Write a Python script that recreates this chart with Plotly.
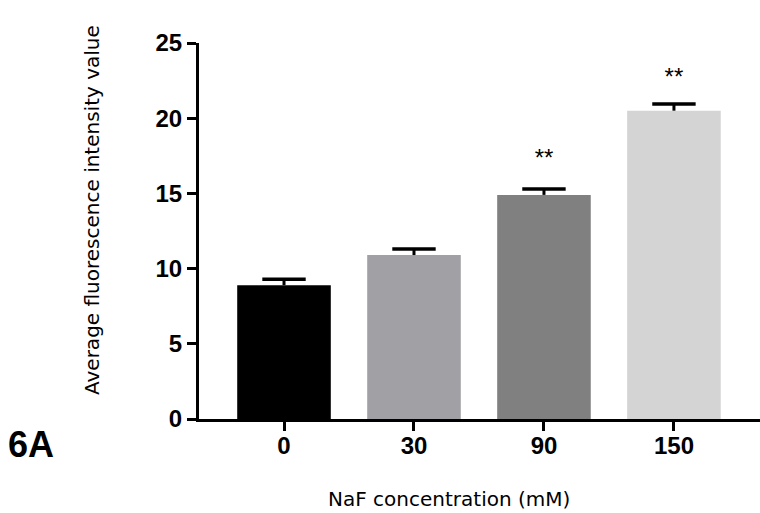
import plotly.graph_objects as go

categories = ["0", "30", "90", "150"]
means = [8.9, 10.9, 14.9, 20.5]
errors = [0.4, 0.4, 0.4, 0.45]
colors = ["#000000", "#a1a1a5", "#808080", "#d4d4d4"]
star_labels = ["", "", "**", "**"]
star_y = [0, 0, 17.2, 22.6]
y_ticks = [0, 5, 10, 15, 20, 25]

xs = list(range(len(categories)))
caps = [m + e for m, e in zip(means, errors)]

# layout geometry (pixels)
W, H = 760, 513
ML, MR, MT, MB = 199, 0, 43, 94
PW, PH = W - ML - MR, H - MT - MB


def px_to_paper(px, py):
    return (px - ML) / PW, (H - MB - py) / PH


fig = go.Figure()
fig.add_trace(go.Bar(
    x=xs, y=means, width=0.72,
    marker=dict(color=colors, line=dict(width=0)),
    showlegend=False, hoverinfo="skip",
))
# error bars: stem down to bar top, cap at mean+error
fig.add_trace(go.Scatter(
    x=xs, y=caps, mode="markers",
    marker=dict(symbol="line-ew", size=31, color="black",
                line=dict(color="black", width=3.5)),
    error_y=dict(type="data", symmetric=False, array=[0]*len(errors),
                 arrayminus=errors, color="black", thickness=3, width=0),
    showlegend=False,
))
sx = [x for x, s in zip(xs, star_labels) if s]
sy = [y for y, s in zip(star_y, star_labels) if s]
st = [s for s in star_labels if s]
fig.add_trace(go.Scatter(
    x=sx, y=sy, text=st, mode="text", textposition="middle center",
    textfont=dict(family="Liberation Sans, Arial", size=24, color="black"),
    showlegend=False,
))

tx, ty = px_to_paper(31, 444)
xtx, xty = px_to_paper(449, 499)
ytx, yty = px_to_paper(92, 210)

fig.update_layout(
    width=W, height=H,
    margin=dict(l=ML, r=MR, t=MT, b=MB),
    paper_bgcolor="white", plot_bgcolor="white",
    font=dict(family="Liberation Sans, Arial", color="black"),
    xaxis=dict(
        range=[-0.654, 3.662], tickvals=xs, ticktext=categories,
        showline=True, linecolor="black", linewidth=3,
        ticks="outside", ticklen=9, tickwidth=3, tickcolor="black",
        ticklabelstandoff=-6,
        tickfont=dict(size=24, family="Liberation Sans, Arial", weight="bold"),
        showgrid=False, zeroline=False,
    ),
    yaxis=dict(
        range=[0, 25], tickvals=y_ticks,
        showline=True, linecolor="black", linewidth=3,
        ticks="outside", ticklen=9, tickwidth=3, tickcolor="black",
        tickfont=dict(size=24, family="Liberation Sans, Arial", weight="bold"),
        showgrid=False, zeroline=False,
    ),
    annotations=[
        dict(text="<b>6A</b>", x=tx, y=ty, xref="paper", yref="paper",
             showarrow=False, xanchor="center", yanchor="middle",
             font=dict(size=36, family="Liberation Sans, Arial")),
        dict(text="NaF concentration (mM)", x=xtx, y=xty, xref="paper", yref="paper",
             showarrow=False, xanchor="center", yanchor="middle",
             font=dict(size=20, family="DejaVu Sans")),
        dict(text="Average fluorescence intensity value", x=ytx, y=yty,
             xref="paper", yref="paper", textangle=-90,
             showarrow=False, xanchor="center", yanchor="middle",
             font=dict(size=20, family="DejaVu Sans")),
    ],
)

fig.write_html("out.html")
